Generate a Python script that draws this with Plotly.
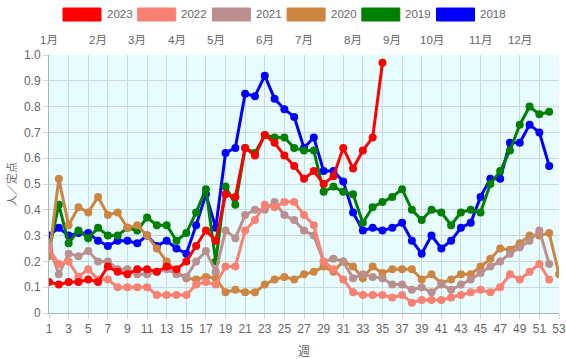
import plotly.graph_objects as go

y2023 = [0.12, 0.11, 0.12, 0.12, 0.13, 0.12, 0.18, 0.16, 0.15, 0.17, 0.17, 0.16, 0.18, 0.17, 0.20,
         0.26, 0.32, 0.28, 0.46, 0.45, 0.64, 0.61, 0.69, 0.66, 0.61, 0.57, 0.52, 0.55, 0.50, 0.53,
         0.64, 0.56, 0.63, 0.68, 0.97]
y2022 = [0.25, 0.19, 0.20, 0.14, 0.17, 0.13, 0.13, 0.10, 0.10, 0.10, 0.10, 0.07, 0.07, 0.07, 0.07,
         0.11, 0.12, 0.11, 0.18, 0.18, 0.32, 0.36, 0.42, 0.41, 0.43, 0.43, 0.38, 0.34, 0.20, 0.17,
         0.13, 0.08, 0.07, 0.07, 0.07, 0.06, 0.07, 0.04, 0.05, 0.05, 0.05, 0.06, 0.07, 0.08, 0.09,
         0.08, 0.10, 0.15, 0.13, 0.16, 0.19, 0.13]
y2021 = [0.26, 0.15, 0.23, 0.22, 0.24, 0.20, 0.20, 0.17, 0.17, 0.15, 0.15, 0.16, 0.17, 0.15, 0.14,
         0.20, 0.24, 0.16, 0.32, 0.29, 0.38, 0.40, 0.40, 0.43, 0.38, 0.36, 0.32, 0.30, 0.20, 0.21,
         0.20, 0.135, 0.15, 0.14, 0.135, 0.11, 0.11, 0.09, 0.10, 0.08, 0.11, 0.09, 0.11, 0.13, 0.155,
         0.18, 0.20, 0.23, 0.255, 0.28, 0.32, 0.19]
y2020 = [0.22, 0.52, 0.34, 0.41, 0.39, 0.45, 0.38, 0.39, 0.33, 0.34, 0.30, 0.25, 0.20, 0.16, 0.135,
         0.13, 0.14, 0.135, 0.08, 0.09, 0.08, 0.08, 0.11, 0.13, 0.14, 0.13, 0.15, 0.16, 0.18, 0.16,
         0.20, 0.18, 0.135, 0.18, 0.155, 0.17, 0.17, 0.17, 0.13, 0.15, 0.115, 0.13, 0.15, 0.15, 0.18,
         0.21, 0.25, 0.245, 0.27, 0.30, 0.30, 0.31, 0.15]
y2019 = [0.24, 0.42, 0.27, 0.32, 0.29, 0.33, 0.30, 0.30, 0.33, 0.32, 0.37, 0.34, 0.34, 0.28, 0.31,
         0.39, 0.48, 0.20, 0.49, 0.42, 0.64, 0.62, 0.69, 0.68, 0.68, 0.64, 0.63, 0.63, 0.47, 0.49,
         0.47, 0.46, 0.35, 0.41, 0.43, 0.45, 0.48, 0.40, 0.36, 0.40, 0.39, 0.34, 0.39, 0.40, 0.39,
         0.50, 0.55, 0.63, 0.73, 0.80, 0.77, 0.78]
y2018 = [0.30, 0.33, 0.30, 0.31, 0.31, 0.28, 0.26, 0.28, 0.28, 0.27, 0.30, 0.26, 0.28, 0.25, 0.23,
         0.34, 0.46, 0.33, 0.62, 0.64, 0.85, 0.84, 0.92, 0.83, 0.79, 0.76, 0.64, 0.68, 0.55, 0.55,
         0.51, 0.39, 0.32, 0.33, 0.32, 0.33, 0.35, 0.28, 0.23, 0.30, 0.25, 0.28, 0.33, 0.35, 0.45,
         0.52, 0.52, 0.66, 0.66, 0.73, 0.70, 0.57]

series_names = ["2023", "2022", "2021", "2020", "2019", "2018"]
series_values = [y2023, y2022, y2021, y2020, y2019, y2018]
series_colors = ["red", "salmon", "rosybrown", "peru", "green", "blue"]

x_ticks = list(range(1, 54, 2))
y_ticks = [0, 0.1, 0.2, 0.3, 0.4, 0.5, 0.6, 0.7, 0.8, 0.9, 1.0]
y_ticktext = ["0", "0.1", "0.2", "0.3", "0.4", "0.5", "0.6", "0.7", "0.8", "0.9", "1.0"]
month_weeks = [1, 6, 10, 14, 18, 23, 27, 32, 36, 40, 45, 49]
month_labels = ["1月", "2月", "3月", "4月", "5月", "6月", "7月", "8月", "9月", "10月", "11月", "12月"]

FONT = "Arial, Liberation Sans, Noto Sans CJK JP, sans-serif"
GRAY = "#666666"

W, H = 566, 359
ML, MR, MT, MB = 49, 7, 55, 46
PW, PH = W - ML - MR, H - MT - MB


def px_to_paper_x(px):
    return (px - ML) / PW


def px_to_paper_y(py):
    return (H - MB - py) / PH


fig = go.Figure()
# draw older years first so 2023 ends on top
for name, vals, col in reversed(list(zip(series_names, series_values, series_colors))):
    fig.add_trace(go.Scatter(
        x=list(range(1, len(vals) + 1)), y=vals, name=name, mode="lines+markers",
        line=dict(color=col, width=3), marker=dict(color=col, size=8),
        showlegend=False, hoverinfo="skip"))

# manual legend (rectangles + labels)
shapes = []
annotations = []
item_w = 74.7
x_start = 63
for i, (name, col) in enumerate(zip(series_names, series_colors)):
    x0 = x_start + i * item_w
    shapes.append(dict(type="rect", xref="paper", yref="paper",
                       x0=px_to_paper_x(x0), x1=px_to_paper_x(x0 + 38),
                       y0=px_to_paper_y(21), y1=px_to_paper_y(8),
                       fillcolor=col, line=dict(color=col, width=1), layer="above"))
    annotations.append(dict(text=name, xref="paper", yref="paper",
                            x=px_to_paper_x(x0 + 41.5), y=px_to_paper_y(14.5),
                            xanchor="left", yanchor="middle", showarrow=False,
                            font=dict(family=FONT, size=11.5, color=GRAY)))

for wk, lab in zip(month_weeks, month_labels):
    annotations.append(dict(text=lab, x=wk, xref="x", yref="paper", y=1,
                            yanchor="bottom", yshift=7, showarrow=False,
                            font=dict(family=FONT, size=11.5, color=GRAY)))

fig.update_layout(
    width=W, height=H,
    margin=dict(l=ML, r=MR, t=MT, b=MB, autoexpand=False),
    paper_bgcolor="white", plot_bgcolor="#e6fcff",
    font=dict(family=FONT, size=12, color=GRAY),
    hovermode=False,
    shapes=shapes, annotations=annotations,
    xaxis=dict(range=[1, 53], tickvals=x_ticks, showgrid=True, gridcolor="#cbd8dc",
               showline=True, linecolor="#aab4b8", linewidth=1, zeroline=False,
               ticks="outside", ticklen=5, tickcolor="#cbd8dc", automargin=False,
               ticklabeloverflow="allow",
               title=dict(text="週", standoff=12, font=dict(size=12, color=GRAY))),
    yaxis=dict(range=[0, 1], tickvals=y_ticks, ticktext=y_ticktext, showgrid=True,
               gridcolor="#cbd8dc", showline=True, linecolor="#aab4b8", linewidth=1,
               zeroline=False, ticks="outside", ticklen=5, tickcolor="#cbd8dc",
               automargin=False,
               title=dict(text="人／定点", standoff=5, font=dict(size=11, color=GRAY))),
)

# remove the default page margin so the figure fills the window exactly
fig.write_html("out.html", config={"displayModeBar": False},
               post_script="document.body.style.margin='0';")
